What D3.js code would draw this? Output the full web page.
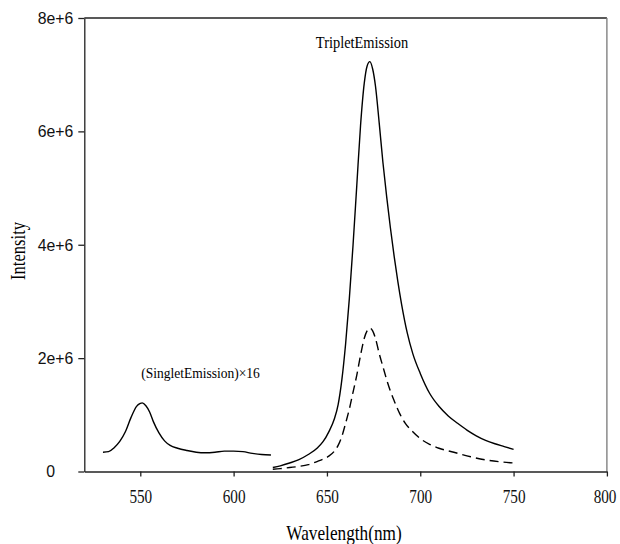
<!DOCTYPE html>
<html>
<head>
<meta charset="utf-8">
<script src="https://cdn.jsdelivr.net/npm/d3@7/dist/d3.min.js"></script>
<style>
	body { margin: 0; background: #fff; }
	.tick line, .domain { stroke: #222; stroke-width: 1.3; }
</style>
</head>
<body>
<div id="dataviz"></div>
<script>
// dati (intensita in milioni)
var singlet_wl  = [530, 533, 536, 539, 542, 545, 548, 550, 551, 553, 555, 557, 560, 563, 566, 570, 575, 580, 585, 590, 595, 600, 605, 610, 615, 620];
var singlet_int = [0.34, 0.35, 0.42, 0.53, 0.70, 0.95, 1.15, 1.20, 1.21, 1.16, 1.05, 0.88, 0.68, 0.54, 0.46, 0.41, 0.37, 0.34, 0.33, 0.34, 0.36, 0.36, 0.35, 0.32, 0.30, 0.29];

var triplet_wl  = [621, 625, 630, 635, 640, 645, 648, 651, 654, 656, 658, 660, 662, 664, 666, 668, 670, 671.5, 673, 674.5, 676, 678, 680, 682, 684, 686, 688, 690, 693, 696, 700, 705, 710, 715, 720, 725, 730, 735, 740, 745, 750];
var triplet_int = [0.07, 0.10, 0.15, 0.21, 0.30, 0.42, 0.53, 0.70, 0.93, 1.18, 1.62, 2.25, 3.05, 4.00, 5.05, 6.10, 6.85, 7.15, 7.23, 7.10, 6.80, 6.15, 5.45, 4.85, 4.30, 3.80, 3.35, 2.95, 2.45, 2.08, 1.73, 1.38, 1.15, 0.98, 0.85, 0.73, 0.63, 0.55, 0.49, 0.44, 0.39];

var dashed_wl  = [621, 625, 630, 635, 640, 645, 648, 651, 654, 656, 658, 660, 662, 664, 666, 668, 670, 671.5, 673, 674.5, 676, 678, 680, 682, 684, 686, 689, 692, 696, 700, 705, 710, 718, 727, 736, 743, 750];
var dashed_int = [0.04, 0.05, 0.07, 0.09, 0.12, 0.18, 0.22, 0.27, 0.36, 0.46, 0.62, 0.85, 1.10, 1.40, 1.70, 2.05, 2.35, 2.48, 2.53, 2.48, 2.35, 2.08, 1.85, 1.62, 1.42, 1.25, 1.02, 0.85, 0.70, 0.58, 0.48, 0.41, 0.34, 0.26, 0.20, 0.17, 0.15];

var x_ticks = [550, 600, 650, 700, 750, 800];
var y_ticks = [0, 2, 4, 6, 8];
var y_tick_labels = ["0", "2e+6", "4e+6", "6e+6", "8e+6"];

var serif = "'Liberation Serif', 'Times New Roman', serif";
var sans = "'Liberation Sans', Arial, sans-serif";

// stringe il testo in orizzontale come nell'originale
function squeeze(sel, ratio){
	sel.each(function(){
		var len = this.getComputedTextLength();
		d3.select(this)
			.attr("textLength", len * ratio)
			.attr("lengthAdjust", "spacingAndGlyphs");
	});
}

function to_points(wl, val){
	return wl.map(function(d, i){ return [d, val[i]]; });
}

function draw_chart(){
	var width = 620;
	var height = 544;
	var left = 84.3, right = 606.9, top = 18, bottom = 471.5;

	var svg = d3.select("#dataviz").append("svg")
		.attr("width", width)
		.attr("height", height);

	var x = d3.scaleLinear().domain([520, 800]).range([left, right]);
	var y = d3.scaleLinear().domain([0, 8]).range([bottom, top]);

	// cornice sopra e a destra
	svg.append("line")
		.attr("x1", left).attr("x2", right)
		.attr("y1", top).attr("y2", top)
		.style("stroke", "#222").style("stroke-width", 1.3);
	svg.append("line")
		.attr("x1", right).attr("x2", right)
		.attr("y1", top).attr("y2", bottom)
		.style("stroke", "#777").style("stroke-width", 1.3);

	// asse x (etichette strette con scale, cosi il riquadro resta giusto)
	var gx = svg.append("g")
		.attr("transform", "translate(0," + bottom + ")")
		.call(d3.axisBottom(x).tickValues(x_ticks).tickSize(5).tickSizeOuter(0).tickPadding(0));
	gx.selectAll("text")
		.attr("y", 31.5)
		.attr("dy", 0)
		.attr("transform", "scale(0.78,1)")
		.style("font-family", serif)
		.style("font-size", "19.5px")
		.style("fill", "#111");
	gx.selectAll(".tick text")
		.filter(function(d){ return d == 800; })
		.attr("x", -3);

	// asse y
	var gy = svg.append("g")
		.attr("transform", "translate(" + left + ",0)")
		.call(d3.axisLeft(y).tickValues(y_ticks).tickSize(6).tickSizeOuter(0).tickPadding(5)
			.tickFormat(function(d, i){ return y_tick_labels[i]; }));
	gy.selectAll("text")
		.style("font-family", sans)
		.style("font-size", "17px")
		.style("fill", "#111")
		.call(squeeze, 0.93);
	gy.selectAll(".tick text")
		.filter(function(d){ return d == 0; })
		.attr("x", -29.3);

	var line = d3.line()
		.x(function(d){ return x(d[0]); })
		.y(function(d){ return y(d[1]); })
		.curve(d3.curveMonotoneX);

	svg.append("path")
		.datum(to_points(singlet_wl, singlet_int))
		.attr("d", line)
		.style("fill", "none").style("stroke", "#000").style("stroke-width", 1.4);

	svg.append("path")
		.datum(to_points(triplet_wl, triplet_int))
		.attr("d", line)
		.style("fill", "none").style("stroke", "#000").style("stroke-width", 1.4);

	svg.append("path")
		.datum(to_points(dashed_wl, dashed_int))
		.attr("d", line)
		.style("fill", "none").style("stroke", "#000").style("stroke-width", 1.4)
		.style("stroke-dasharray", "9,5");

	// etichette
	svg.append("text")
		.text("TripletEmission")
		.attr("x", 362).attr("y", 47.5)
		.attr("text-anchor", "middle")
		.style("font-family", serif).style("font-size", "16px")
		.call(squeeze, 0.9);

	svg.append("text")
		.text("(SingletEmission)\u00d716")
		.attr("x", 200.5).attr("y", 378)
		.attr("text-anchor", "middle")
		.style("font-family", serif).style("font-size", "15px")
		.call(squeeze, 0.9);

	svg.append("text")
		.text("Wavelength(nm)")
		.attr("x", 344).attr("y", 540)
		.attr("text-anchor", "middle")
		.style("font-family", serif).style("font-size", "21px")
		.call(squeeze, 0.82);

	svg.append("text")
		.text("Intensity")
		.attr("transform", "translate(25,251) rotate(-90)")
		.attr("text-anchor", "middle")
		.style("font-family", serif).style("font-size", "20px")
		.call(squeeze, 0.83);
}

draw_chart();
</script>
</body>
</html>
